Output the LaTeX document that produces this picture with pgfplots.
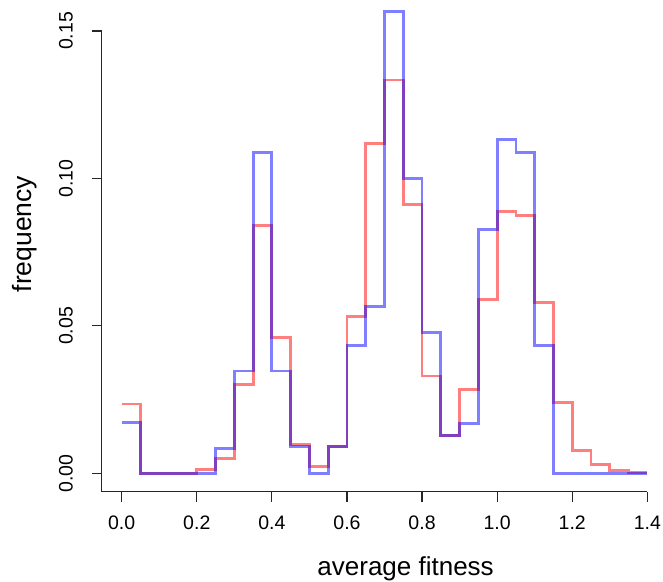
\documentclass[border=0pt]{standalone}
\usepackage{pgfplots}
\pgfplotsset{compat=1.18}
\usepackage{pgfplotstable}
\usepackage{fontspec}
\setmainfont{Liberation Sans}

\pgfplotstableread{
x     red     blue
0.00  0.0235  0.0172
0.05  0       0
0.10  0       0
0.15  0       0
0.20  0.0012  0
0.25  0.0050  0.0085
0.30  0.0300  0.0347
0.35  0.0840  0.1088
0.40  0.0460  0.0347
0.45  0.0098  0.0090
0.50  0.0023  0
0.55  0.0091  0.0090
0.60  0.0532  0.0434
0.65  0.1118  0.0565
0.70  0.1334  0.1567
0.75  0.0911  0.1001
0.80  0.0330  0.0477
0.85  0.0128  0.0128
0.90  0.0284  0.0170
0.95  0.0589  0.0828
1.00  0.0889  0.1132
1.05  0.0874  0.1088
1.10  0.0579  0.0433
1.15  0.0240  0
1.20  0.0078  0
1.25  0.0030  0
1.30  0.0010  0
1.35  0.0003  0
1.40  0.0003  0
}\histdata

\begin{document}
\begin{tikzpicture}
\begin{axis}[
  scale only axis,
  width=545.6pt, height=460.7pt,
  xmin=-0.0533, xmax=1.4,
  ymin=-0.00624, ymax=0.15,
  clip=false,
  axis x line=bottom, axis y line=left,
  axis line style={-, line width=1.2pt, black!85},
  tick align=outside,
  major tick length=10pt,
  tick style={line width=1.2pt, black!85},
  xtick={0,0.2,0.4,0.6,0.8,1.0,1.2,1.4},
  ytick={0,0.05,0.10,0.15},
  minor tick num=0,
  /pgf/number format/assume math mode=true,
  xticklabel style={/pgf/number format/fixed, /pgf/number format/precision=1, /pgf/number format/fixed zerofill, anchor=base, yshift=-27.5pt, font=\fontsize{19.5}{23}\selectfont},
  yticklabel style={/pgf/number format/fixed, /pgf/number format/precision=2, /pgf/number format/fixed zerofill, xshift=-19pt, rotate=90, anchor=base, font=\fontsize{19.5}{23}\selectfont},
  scaled y ticks=false,
  xlabel={average fitness},
  ylabel={frequency},
  every axis x label/.style={at={([yshift=-83.3pt]axis description cs:0.557,0)}, anchor=base, font=\fontsize{26}{30}\selectfont},
  every axis y label/.style={at={([xshift=-70pt]axis description cs:0,0.559)}, rotate=90, anchor=base, font=\fontsize{26.5}{30}\selectfont},
]
\addplot[const plot mark left, no marks, line width=2.8pt, red, opacity=0.5] table[x=x, y=red] {\histdata};
\addplot[const plot mark left, no marks, line width=2.8pt, blue, opacity=0.5] table[x=x, y=blue] {\histdata};
\end{axis}
\pgfresetboundingbox
\path[use as bounding box] ([shift={(-101.7pt,-89.3pt)}]current axis.south west) rectangle ++(663pt,581pt);
\end{tikzpicture}
\end{document}
